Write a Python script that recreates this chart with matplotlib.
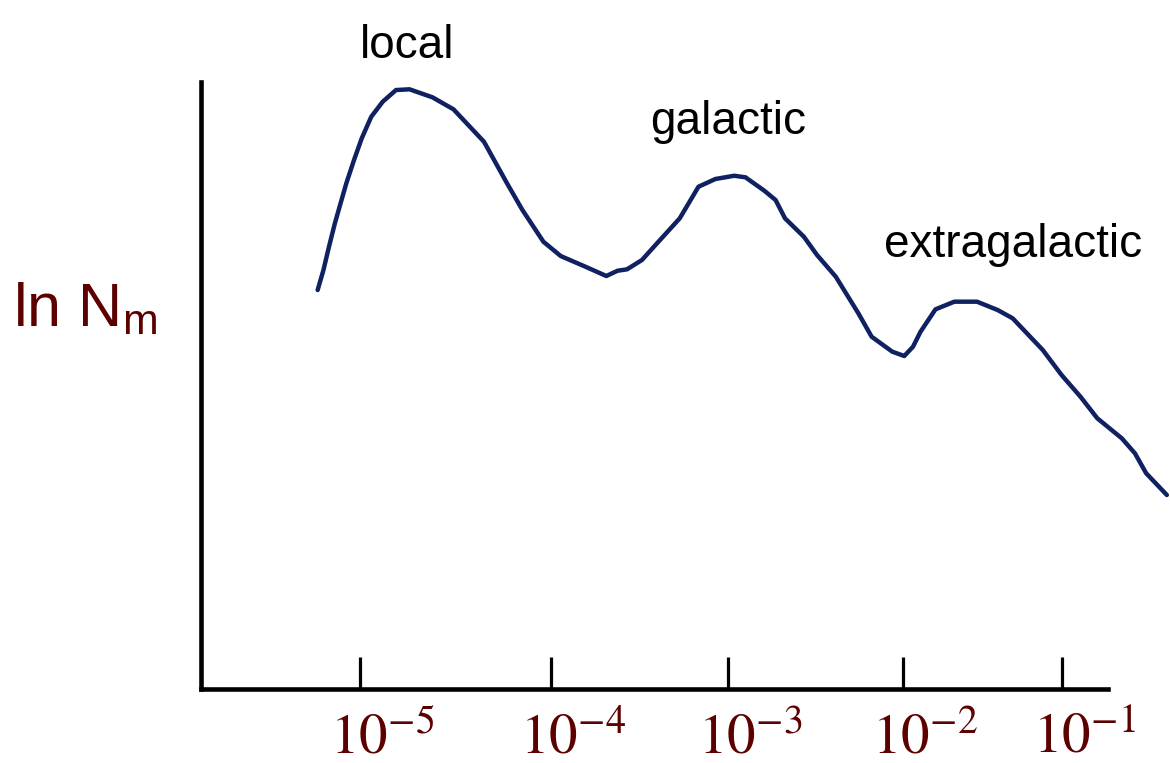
import matplotlib.pyplot as plt
import matplotlib.transforms as mtransforms

# curve (x: position along axis 0..100, y: ln N_m, 0..100)
mass_pos = [12.86, 13.50, 14.11, 14.76, 15.39, 16.02, 16.87, 17.72, 18.77, 20.03,
            21.50, 22.99, 25.52, 27.84, 31.20, 33.74, 35.44, 37.75, 39.66, 42.39,
            44.69, 45.93, 46.97, 48.62, 50.28, 52.78, 54.85, 56.71, 58.79, 60.03,
            62.11, 63.35, 64.39, 66.47, 67.92, 69.99, 72.48, 73.94, 76.22, 77.54,
            78.50, 79.33, 80.98, 83.06, 85.56, 87.83, 89.49, 92.81, 94.88, 96.96,
            98.82, 101.52, 102.97, 104.21, 106.49]
ln_n = [65.73, 69.03, 72.87, 76.72, 80.03, 83.31, 87.15, 90.72, 94.28, 96.75,
        98.68, 98.80, 97.48, 95.50, 90.16, 83.31, 78.91, 73.69, 71.33, 69.57,
        68.04, 68.91, 69.14, 70.68, 73.43, 77.54, 82.75, 84.02, 84.56, 84.30,
        82.09, 80.56, 77.54, 74.51, 71.50, 67.92, 61.89, 58.04, 55.57, 54.86,
        56.39, 58.86, 62.55, 63.81, 63.81, 62.44, 61.07, 55.85, 51.73, 48.16,
        44.60, 41.30, 38.83, 35.54, 31.96]

tick_pos = [17.53, 38.59, 58.10, 77.40, 94.93]
tick_labels = [r'$10^{-5}$', r'$10^{-4}$', r'$10^{-3}$', r'$10^{-2}$', r'$10^{-1}$']

peak_names = ['local', 'galactic', 'extragalactic']
peak_x = [22.78, 58.17, 89.49]
peak_y = [103.9, 91.43, 71.12]

red = '#5c0000'
navy = '#0f2160'

plt.rcParams['mathtext.fontset'] = 'stix'

fig = plt.figure(figsize=(11.7, 7.63), dpi=100)
ax = fig.add_axes([0.1718, 0.0970, 0.7752, 0.7955])

ax.plot(mass_pos, ln_n, color=navy, lw=3.2, clip_on=False,
        solid_capstyle='round', solid_joinstyle='round')

ax.set_xlim(0, 100)
ax.set_ylim(0, 100)
for s in ['top', 'right']:
    ax.spines[s].set_visible(False)
for s in ['left', 'bottom']:
    ax.spines[s].set_linewidth(3.3)

ax.set_yticks([])
ax.set_xticks(tick_pos)
ax.set_xticklabels(tick_labels, fontsize=41, color=red)
ax.tick_params(axis='x', direction='in', length=23, width=2.3, pad=15)

# labels sit with the "10" on the tick, exponent hanging to the right
shift = mtransforms.ScaledTranslation(16 / 72, 0, fig.dpi_scale_trans)
for lab in ax.get_xticklabels():
    lab.set_transform(lab.get_transform() + shift)

for name, x, y in zip(peak_names, peak_x, peak_y):
    ax.text(x, y, name, ha='center', va='baseline', fontsize=33,
            family='Liberation Sans', color='black')

fig.text(0.011, 1 - 327 / 763, r'ln N$_\mathregular{m}$', fontsize=44,
         family='Liberation Sans', color=red, va='baseline', ha='left')

fig.savefig('out.png', dpi=100)
